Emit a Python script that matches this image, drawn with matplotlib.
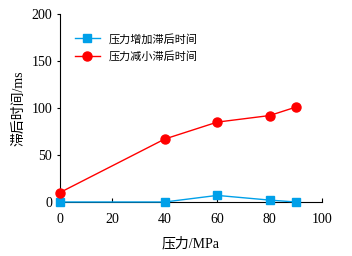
import matplotlib
matplotlib.use('Agg')
import matplotlib.pyplot as plt

# data
pressure = [0, 40, 60, 80, 90]
lag_increase = [0, 0, 7, 2, 0]
lag_decrease = [10, 67, 85, 92, 101]
labels = ['压力增加滞后时间', '压力减小滞后时间']

plt.rcParams['font.family'] = ['Liberation Serif', 'Noto Sans CJK SC']

fig = plt.figure(figsize=(3.52, 2.56), dpi=100)
ax = fig.add_axes([0.170, 0.211, 0.745, 0.734])

ax.plot(pressure, lag_increase, '-s', color='#00A0E9', lw=1, ms=6, label=labels[0], zorder=3, clip_on=False)
ax.plot(pressure, lag_decrease, '-o', color='#FF0000', lw=1, ms=6.5, label=labels[1], zorder=3, clip_on=False)

ax.set_xlim(0, 100)
ax.set_ylim(0, 200)
ax.set_xticks(range(0, 101, 20))
ax.set_yticks(range(0, 201, 50))
ax.spines['top'].set_visible(False)
ax.spines['right'].set_visible(False)
ax.tick_params(axis='x', direction='in', length=3, labelsize=10, pad=8)
ax.tick_params(axis='y', direction='out', length=2, labelsize=10)

ax.set_xlabel('压力/MPa', fontsize=10, labelpad=8)
ax.set_ylabel('滞后时间/ms', fontsize=10)

ax.legend(loc='upper left', bbox_to_anchor=(0.02, 0.95), frameon=False, fontsize=8,
          handlelength=2.2, labelspacing=0.55)

fig.savefig('out.png', dpi=100)
